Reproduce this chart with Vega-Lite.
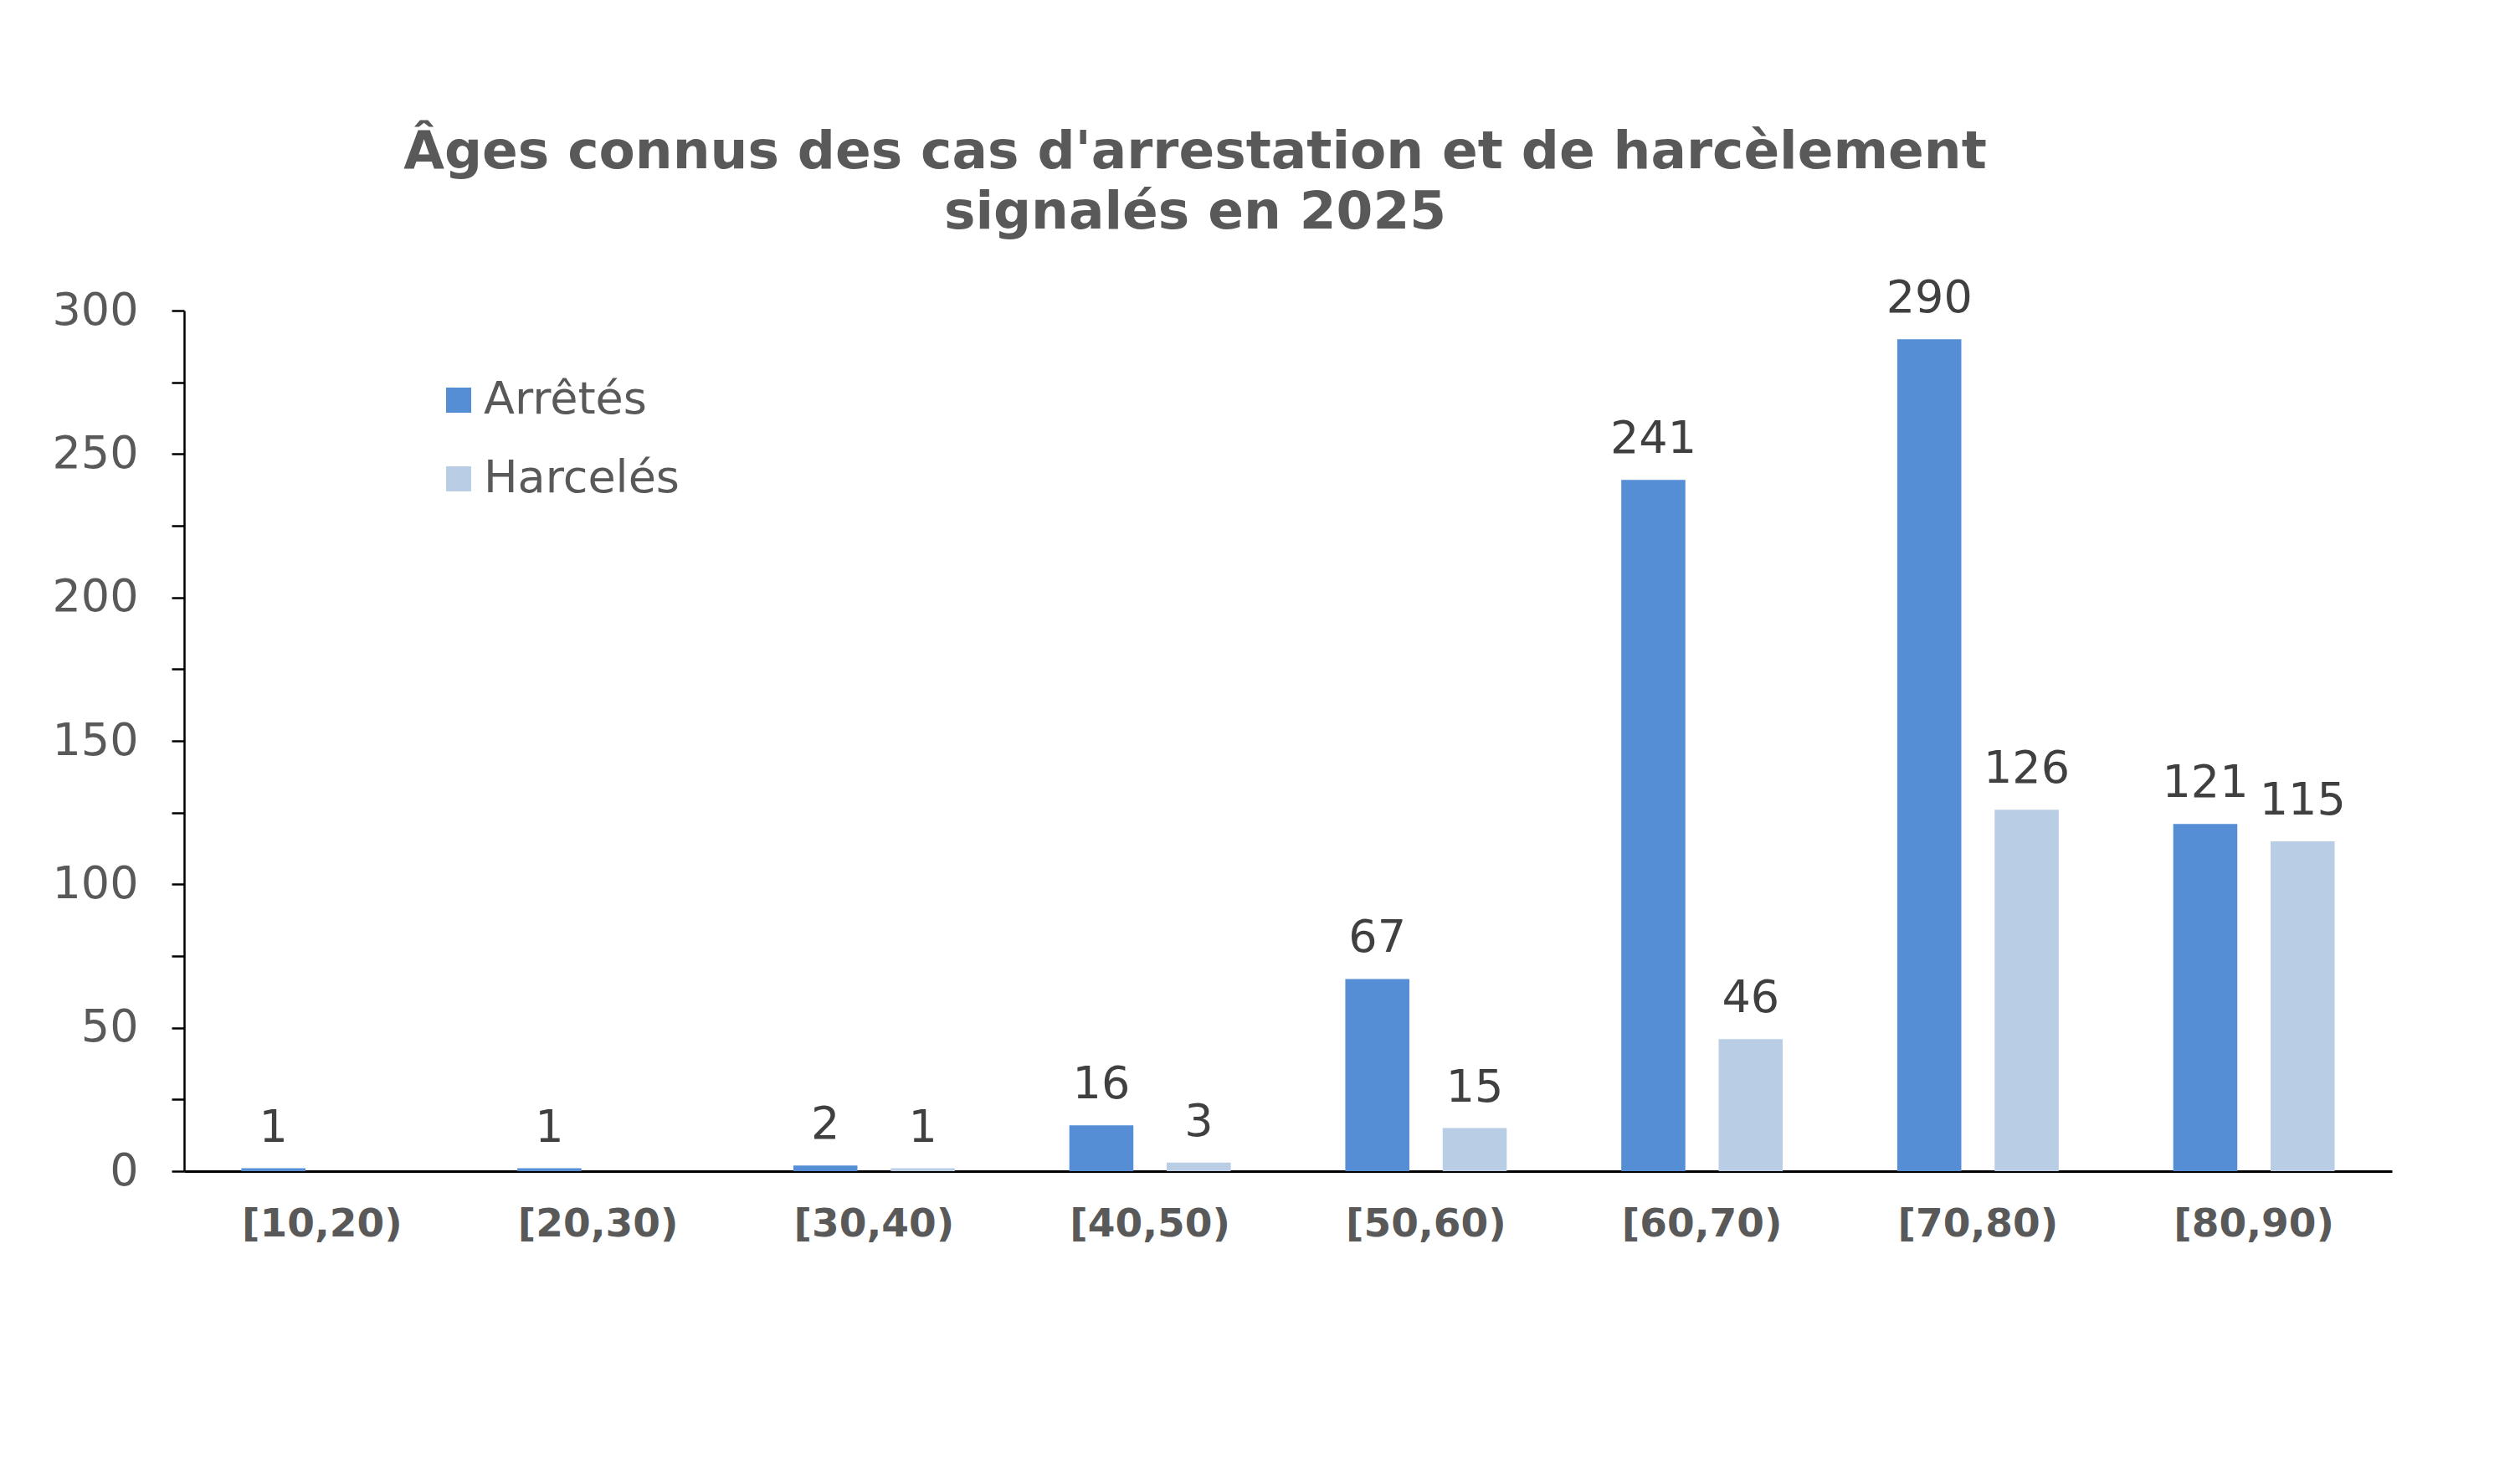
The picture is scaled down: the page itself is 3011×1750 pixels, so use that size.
{
  "$schema": "https://vega.github.io/schema/vega-lite/v6.json",
  "width": 2638,
  "height": 1028,
  "autosize": {"type": "none"},
  "padding": {"left": 220, "top": 371, "right": 153, "bottom": 351},
  "background": "white",
  "title": {
    "text": ["Âges connus des cas d'arrestation et de harcèlement", "signalés en 2025"],
    "fontSize": 63,
    "font": "DejaVu Sans",
    "fontWeight": "bold",
    "color": "#595959",
    "anchor": "middle",
    "frame": "group",
    "dx": -111,
    "lineHeight": 72,
    "baseline": "bottom",
    "offset": -19
  },
  "data": {
    "values": [
      {"age": "[10,20)", "serie": "Arrêtés", "n": 1},
      {"age": "[20,30)", "serie": "Arrêtés", "n": 1},
      {"age": "[30,40)", "serie": "Arrêtés", "n": 2},
      {"age": "[30,40)", "serie": "Harcelés", "n": 1},
      {"age": "[40,50)", "serie": "Arrêtés", "n": 16},
      {"age": "[40,50)", "serie": "Harcelés", "n": 3},
      {"age": "[50,60)", "serie": "Arrêtés", "n": 67},
      {"age": "[50,60)", "serie": "Harcelés", "n": 15},
      {"age": "[60,70)", "serie": "Arrêtés", "n": 241},
      {"age": "[60,70)", "serie": "Harcelés", "n": 46},
      {"age": "[70,80)", "serie": "Arrêtés", "n": 290},
      {"age": "[70,80)", "serie": "Harcelés", "n": 126},
      {"age": "[80,90)", "serie": "Arrêtés", "n": 121},
      {"age": "[80,90)", "serie": "Harcelés", "n": 115}
    ]
  },
  "encoding": {
    "x": {
      "field": "age",
      "type": "nominal",
      "sort": null,
      "scale": {"paddingInner": 0.415, "paddingOuter": 0.2075},
      "axis": {
        "title": null,
        "labelAngle": 0,
        "labelFont": "DejaVu Sans",
        "labelFontSize": 47,
        "labelFontWeight": "bold",
        "labelColor": "#595959",
        "labelLimit": 0,
        "ticks": false,
        "tickSize": 0,
        "labelPadding": 40,
        "domainColor": "black",
        "domainWidth": 3,
        "grid": false
      }
    },
    "xOffset": {
      "field": "serie",
      "type": "nominal",
      "sort": ["Arrêtés", "Harcelés"],
      "scale": {"paddingInner": 0.342, "paddingOuter": 0}
    },
    "y": {
      "field": "n",
      "type": "quantitative",
      "scale": {"domain": [0, 300], "nice": false},
      "axis": {
        "title": null,
        "values": [0, 25, 50, 75, 100, 125, 150, 175, 200, 225, 250, 275, 300],
        "labelExpr": "datum.value % 50 === 0 ? datum.label : ''",
        "labelFont": "DejaVu Sans",
        "labelFontSize": 54,
        "labelColor": "#595959",
        "labelLimit": 0,
        "labelPadding": 40,
        "tickSize": 15,
        "tickColor": "black",
        "tickWidth": 2.5,
        "domainColor": "black",
        "domainWidth": 2.5,
        "grid": false
      }
    }
  },
  "layer": [
    {
      "mark": {"type": "bar"},
      "encoding": {
        "color": {
          "field": "serie",
          "type": "nominal",
          "sort": ["Arrêtés", "Harcelés"],
          "scale": {"domain": ["Arrêtés", "Harcelés"], "range": ["#558ED5", "#B9CDE5"]},
          "legend": {
            "orient": "none",
            "legendX": 301,
            "legendY": 80,
            "title": null,
            "symbolType": "square",
            "symbolSize": 900,
            "symbolStrokeWidth": 0,
            "labelFont": "DejaVu Sans",
            "labelFontSize": 54,
            "labelColor": "#595959",
            "labelLimit": 0,
            "labelOffset": 3,
            "rowPadding": 40,
            "padding": 0
          }
        }
      }
    },
    {
      "mark": {
        "type": "text",
        "dy": -32,
        "baseline": "alphabetic",
        "fontSize": 54,
        "font": "DejaVu Sans",
        "color": "#404040"
      },
      "encoding": {"text": {"field": "n", "type": "quantitative"}}
    }
  ],
  "config": {"view": {"stroke": null}}
}
